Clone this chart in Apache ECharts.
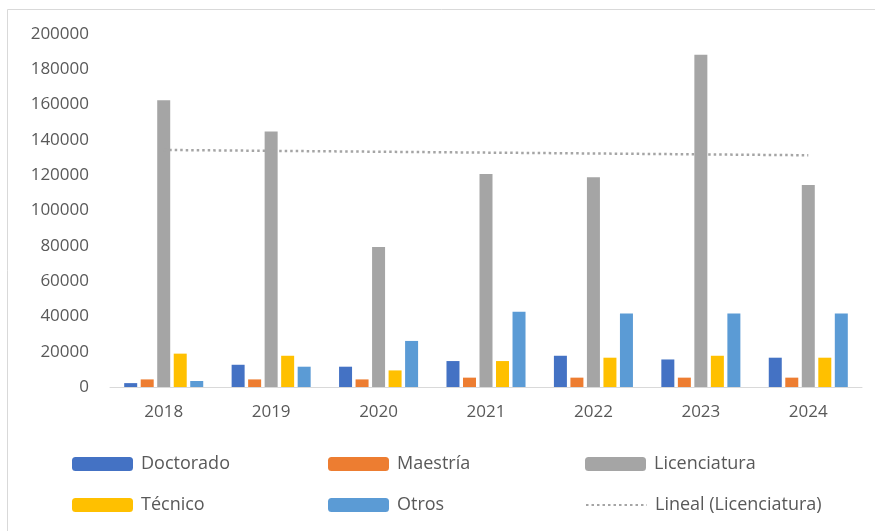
<!DOCTYPE html>
<html>
<head>
<meta charset="utf-8">
<script src="https://cdn.jsdelivr.net/npm/echarts@6/dist/echarts.min.js"></script>
<style>
html,body{margin:0;padding:0;background:#fff;}
#chart{width:875px;height:531px;}
</style>
</head>
<body>
<div id="chart"></div>
<script>
const categories = ['2018','2019','2020','2021','2022','2023','2024'];
const doctorado    = [2200, 12600, 11500, 14700, 17700, 15600, 16600];
const maestria     = [4300, 4300, 4300, 5300, 5300, 5300, 5300];
const licenciatura = [162400, 144700, 79300, 120700, 118800, 188300, 114400];
const tecnico      = [18900, 17700, 9400, 14700, 16600, 17700, 16600];
const otros        = [3400, 11500, 26100, 42700, 41700, 41700, 41700];
const trendLicenciatura = [134300, null, null, null, null, null, 131300];
const yTicks = { min: 0, max: 200000, interval: 20000 };

const FONT = '"Open Sans", sans-serif';
const TXT = '#595959';
const chart = echarts.init(document.getElementById('chart'), null, {renderer:'canvas'});

function bar(name, data, color){
  return { name, type:'bar', data, itemStyle:{color},
    barWidth:13, barGap:'27%', barCategoryGap:'26%' };
}
function legend(item, left, top){
  return { show:true, data:[item], left, top, orient:'horizontal', padding:0,
    itemWidth:61, itemHeight:14, itemGap:0,
    textStyle:{color:TXT, fontSize:18, fontFamily:FONT, padding:[0,0,0,3]} };
}

chart.setOption({
  backgroundColor:'#ffffff',
  animation:false,
  graphic:[{type:'rect', shape:{x:7.5,y:9.5,width:900,height:600},
    style:{fill:'none', stroke:'#d9d9d9', lineWidth:1}, silent:true}],
  grid:{left:110, right:13, top:34, bottom:144, containLabel:false},
  xAxis:{type:'category', data:categories,
    axisLine:{lineStyle:{color:'#d9d9d9', width:1}},
    axisTick:{show:false},
    axisLabel:{color:TXT, fontSize:17, fontFamily:FONT, margin:17}},
  yAxis:{type:'value', min:yTicks.min, max:yTicks.max, interval:yTicks.interval,
    splitLine:{show:false}, axisLine:{show:false}, axisTick:{show:false},
    axisLabel:{color:TXT, fontSize:17, fontFamily:FONT, margin:21,
      formatter: v => String(v)}},
  legend:[
    legend('Doctorado', 72, 455),
    legend('Maestría', 328, 455),
    legend('Licenciatura', 585, 455),
    legend('Técnico', 72, 496),
    legend('Otros', 328, 496),
    legend({name:'Lineal (Licenciatura)', itemStyle:{opacity:0}}, 585, 496)
  ],
  series:[
    bar('Doctorado', doctorado, '#4472C4'),
    bar('Maestría', maestria, '#ED7D31'),
    bar('Licenciatura', licenciatura, '#A5A5A5'),
    bar('Técnico', tecnico, '#FFC000'),
    bar('Otros', otros, '#5B9BD5'),
    { name:'Lineal (Licenciatura)', type:'line', data:trendLicenciatura,
      connectNulls:true, symbol:'none', z:5,
      itemStyle:{color:'#A5A5A5'},
      lineStyle:{color:'#A5A5A5', width:2.5, type:[2.5,3]} }
  ]
});
</script>
</body>
</html>
